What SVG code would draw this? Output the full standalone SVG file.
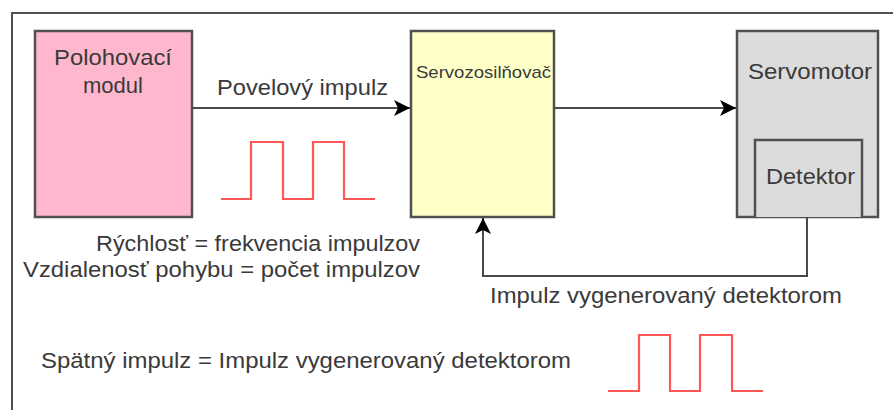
<svg xmlns="http://www.w3.org/2000/svg" width="893" height="410" viewBox="0 0 893 410">
  <style>
    .box { stroke: #505050; stroke-width: 2.5; }
    .t { font-family: "Liberation Sans", Arial, sans-serif; font-size: 22px; fill: #3a3a3a; lengthAdjust: spacingAndGlyphs; }
    .conn { fill: none; stroke: #4a4a4a; stroke-width: 2; }
    .pulse { fill: none; stroke: #ff5656; stroke-width: 2.2; }
  </style>
  <defs>
    <marker id="arr" markerUnits="userSpaceOnUse" markerWidth="16" markerHeight="16" refX="16" refY="8" orient="auto">
      <path d="M0,0 L16,8 L0,16 L4,8 Z" fill="#000"/>
    </marker>
  </defs>
  <rect width="893" height="410" fill="#fff"/>
  <rect x="12" y="13" width="900" height="420" fill="none" stroke="#505050" stroke-width="2"/>

  <g id="polohovaci">
    <rect class="box" x="35" y="31" width="157" height="186" fill="#ffb7ce"/>
    <text class="t" x="54" y="65" textLength="118" lengthAdjust="spacingAndGlyphs">Polohovací</text>
    <text class="t" x="83" y="93" textLength="60" lengthAdjust="spacingAndGlyphs">modul</text>
  </g>

  <g id="servozosilnovac">
    <rect class="box" x="411" y="31" width="143" height="186" fill="#ffffc8"/>
    <text class="t" x="416" y="78" style="font-size:17px" textLength="135" lengthAdjust="spacingAndGlyphs">Servozosilňovač</text>
  </g>

  <g id="servomotor">
    <rect class="box" x="737" y="31" width="141" height="186" fill="#dcdcdc"/>
    <text class="t" x="748" y="79" textLength="124" lengthAdjust="spacingAndGlyphs">Servomotor</text>
  </g>

  <g id="detektor">
    <path class="box" d="M755,217 V140 H862 V217" fill="#dcdcdc"/>
    <text class="t" x="766" y="184" textLength="89" lengthAdjust="spacingAndGlyphs">Detektor</text>
  </g>

  <g id="connectors">
    <path class="conn" d="M192,108 H410" marker-end="url(#arr)"/>
    <path class="conn" d="M554,108 H736" marker-end="url(#arr)"/>
    <path class="conn" d="M807,217 V276 H483 V218" marker-end="url(#arr)"/>
  </g>

  <g id="labels">
    <text class="t" x="217" y="95" textLength="171" lengthAdjust="spacingAndGlyphs">Povelový impulz</text>
    <text class="t" x="96" y="251" textLength="324" lengthAdjust="spacingAndGlyphs">Rýchlosť = frekvencia impulzov</text>
    <text class="t" x="23" y="277" textLength="397" lengthAdjust="spacingAndGlyphs">Vzdialenosť pohybu = počet impulzov</text>
    <text class="t" x="490" y="303" textLength="352" lengthAdjust="spacingAndGlyphs">Impulz vygenerovaný detektorom</text>
    <text class="t" x="41" y="368" textLength="530" lengthAdjust="spacingAndGlyphs">Spätný impulz = Impulz vygenerovaný detektorom</text>
  </g>

  <g id="pulses">
    <path class="pulse" d="M221,199 H251 V142 H283 V199 H313 V142 H344 V199 H375"/>
    <path class="pulse" d="M608,391 H639 V335 H670 V391 H700 V335 H732 V391 H763"/>
  </g>
</svg>
